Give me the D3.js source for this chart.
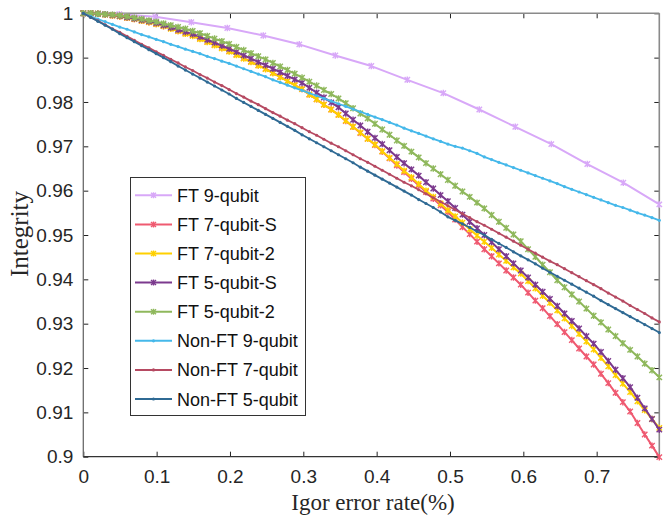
<!DOCTYPE html>
<html><head><meta charset="utf-8">
<script src="https://cdn.jsdelivr.net/npm/d3@7"></script>
<style>html,body{margin:0;padding:0;background:#fff;}svg{display:block;}</style>
</head><body>
<svg id="chart" width="670" height="516"></svg>
<script>
// ---------- data ----------
const X_MAX = 0.7854;            // right end of the error-rate axis (%)
const xTicks = [0, 0.1, 0.2, 0.3, 0.4, 0.5, 0.6, 0.7];
const xTickLabels = ["0", "0.1", "0.2", "0.3", "0.4", "0.5", "0.6", "0.7"];
const yTicks = [0.9, 0.91, 0.92, 0.93, 0.94, 0.95, 0.96, 0.97, 0.98, 0.99, 1];
const yTickLabels = ["0.9", "0.91", "0.92", "0.93", "0.94", "0.95", "0.96", "0.97", "0.98", "0.99", "1"];
const seriesNames = ["FT 9-qubit", "FT 7-qubit-S", "FT 7-qubit-2", "FT 5-qubit-S", "FT 5-qubit-2",
                     "Non-FT 9-qubit", "Non-FT 7-qubit", "Non-FT 5-qubit"];

const ft9 = [1.0000, 0.9998, 0.9992, 0.9980, 0.9967, 0.9950, 0.9930, 0.9905, 0.9881, 0.9850,
             0.9820, 0.9783, 0.9744, 0.9705, 0.9660, 0.9618, 0.9569];

const ft7S = [1.0000, 1.0000, 0.9999, 0.9997, 0.9995, 0.9993,
  0.9990, 0.9987, 0.9983, 0.9980, 0.9976,
  0.9971, 0.9966, 0.9960, 0.9955, 0.9950,
  0.9943, 0.9936, 0.9929, 0.9922, 0.9915,
  0.9907, 0.9899, 0.9891, 0.9883, 0.9875,
  0.9866, 0.9857, 0.9847, 0.9838, 0.9829,
  0.9817, 0.9806, 0.9794, 0.9783, 0.9771,
  0.9757, 0.9744, 0.9730, 0.9717, 0.9703,
  0.9688, 0.9673, 0.9657, 0.9642, 0.9627,
  0.9612, 0.9597, 0.9582, 0.9567, 0.9552,
  0.9535, 0.9518, 0.9502, 0.9485, 0.9468,
  0.9452, 0.9436, 0.9420, 0.9404, 0.9388,
  0.9370, 0.9352, 0.9335, 0.9317, 0.9299,
  0.9281, 0.9263, 0.9244, 0.9226, 0.9208,
  0.9187, 0.9166, 0.9144, 0.9123, 0.9102,
  0.9076, 0.9050, 0.9025, 0.8999];

const ft72 = [1.0000, 1.0000, 0.9999, 0.9997, 0.9995, 0.9993,
  0.9990, 0.9987, 0.9983, 0.9980, 0.9976,
  0.9971, 0.9965, 0.9960, 0.9954, 0.9949,
  0.9942, 0.9935, 0.9928, 0.9921, 0.9914,
  0.9906, 0.9898, 0.9890, 0.9882, 0.9874,
  0.9865, 0.9856, 0.9847, 0.9838, 0.9829,
  0.9817, 0.9806, 0.9794, 0.9783, 0.9771,
  0.9758, 0.9744, 0.9731, 0.9717, 0.9704,
  0.9689, 0.9674, 0.9660, 0.9645, 0.9630,
  0.9615, 0.9600, 0.9586, 0.9571, 0.9556,
  0.9542, 0.9528, 0.9513, 0.9499, 0.9485,
  0.9471, 0.9456, 0.9442, 0.9427, 0.9413,
  0.9396, 0.9380, 0.9363, 0.9347, 0.9330,
  0.9312, 0.9295, 0.9277, 0.9260, 0.9242,
  0.9223, 0.9204, 0.9184, 0.9165, 0.9146,
  0.9125, 0.9105, 0.9085, 0.9065];

const ft5S = [1.0000, 1.0000, 0.9999, 0.9998, 0.9996, 0.9994,
  0.9991, 0.9988, 0.9985, 0.9982, 0.9978,
  0.9973, 0.9968, 0.9963, 0.9958, 0.9953,
  0.9947, 0.9940, 0.9934, 0.9927, 0.9920,
  0.9913, 0.9905, 0.9898, 0.9890, 0.9883,
  0.9875, 0.9867, 0.9859, 0.9851, 0.9843,
  0.9832, 0.9821, 0.9810, 0.9799, 0.9788,
  0.9774, 0.9760, 0.9747, 0.9733, 0.9719,
  0.9705, 0.9691, 0.9676, 0.9662, 0.9648,
  0.9634, 0.9619, 0.9605, 0.9590, 0.9576,
  0.9561, 0.9546, 0.9530, 0.9515, 0.9500,
  0.9484, 0.9468, 0.9452, 0.9436, 0.9420,
  0.9404, 0.9388, 0.9372, 0.9356, 0.9340,
  0.9323, 0.9306, 0.9289, 0.9272, 0.9255,
  0.9236, 0.9216, 0.9196, 0.9177, 0.9157,
  0.9133, 0.9109, 0.9085, 0.9061];

const ft52 = [1.0000, 1.0000, 0.9999, 0.9998, 0.9997, 0.9995,
  0.9993, 0.9990, 0.9987, 0.9984, 0.9981,
  0.9977, 0.9973, 0.9969, 0.9965, 0.9960,
  0.9955, 0.9949, 0.9943, 0.9937, 0.9931,
  0.9924, 0.9917, 0.9910, 0.9903, 0.9896,
  0.9888, 0.9880, 0.9872, 0.9864, 0.9855,
  0.9846, 0.9837, 0.9827, 0.9818, 0.9808,
  0.9797, 0.9786, 0.9774, 0.9763, 0.9751,
  0.9738, 0.9726, 0.9713, 0.9701, 0.9688,
  0.9675, 0.9662, 0.9650, 0.9637, 0.9624,
  0.9611, 0.9598, 0.9586, 0.9573, 0.9560,
  0.9545, 0.9530, 0.9516, 0.9501, 0.9486,
  0.9468, 0.9451, 0.9433, 0.9416, 0.9398,
  0.9382, 0.9366, 0.9350, 0.9334, 0.9318,
  0.9303, 0.9287, 0.9272, 0.9256, 0.9241,
  0.9226, 0.9210, 0.9195, 0.9179];

const nft9 = [1.0000, 0.9993, 0.9987, 0.9981, 0.9975, 0.9969, 0.9964, 0.9958, 0.9952, 0.9947,
  0.9941, 0.9936, 0.9930, 0.9925, 0.9919, 0.9914, 0.9909, 0.9903, 0.9898, 0.9892,
  0.9887, 0.9881, 0.9875, 0.9869, 0.9863, 0.9857, 0.9850, 0.9844, 0.9838, 0.9832,
  0.9826, 0.9820, 0.9814, 0.9808, 0.9802, 0.9796, 0.9790, 0.9784, 0.9778, 0.9772,
  0.9766, 0.9760, 0.9754, 0.9748, 0.9741, 0.9735, 0.9729, 0.9723, 0.9717, 0.9711,
  0.9705, 0.9700, 0.9696, 0.9690, 0.9684, 0.9676, 0.9670, 0.9664, 0.9658, 0.9652,
  0.9646, 0.9640, 0.9634, 0.9628, 0.9622, 0.9616, 0.9609, 0.9603, 0.9597, 0.9591,
  0.9585, 0.9579, 0.9573, 0.9567, 0.9562, 0.9556, 0.9550, 0.9545, 0.9539, 0.9533];

const nft7 = [1.0000, 0.9991, 0.9983, 0.9974, 0.9965, 0.9957, 0.9948, 0.9939, 0.9930, 0.9922,
  0.9913, 0.9905, 0.9896, 0.9888, 0.9879, 0.9871, 0.9862, 0.9854, 0.9845, 0.9837,
  0.9828, 0.9819, 0.9811, 0.9802, 0.9794, 0.9785, 0.9776, 0.9768, 0.9759, 0.9751,
  0.9742, 0.9733, 0.9725, 0.9716, 0.9707, 0.9699, 0.9690, 0.9681, 0.9672, 0.9664,
  0.9655, 0.9646, 0.9637, 0.9628, 0.9619, 0.9611, 0.9602, 0.9593, 0.9584, 0.9575,
  0.9566, 0.9557, 0.9548, 0.9539, 0.9530, 0.9522, 0.9513, 0.9504, 0.9495, 0.9486,
  0.9477, 0.9468, 0.9459, 0.9450, 0.9441, 0.9433, 0.9424, 0.9415, 0.9406, 0.9397,
  0.9388, 0.9379, 0.9369, 0.9360, 0.9351, 0.9341, 0.9332, 0.9323, 0.9313, 0.9304];

const nft5 = [1.0000, 0.9991, 0.9982, 0.9973, 0.9964, 0.9954, 0.9945, 0.9936, 0.9927, 0.9918,
  0.9909, 0.9900, 0.9891, 0.9881, 0.9872, 0.9863, 0.9854, 0.9845, 0.9836, 0.9827,
  0.9818, 0.9808, 0.9799, 0.9790, 0.9781, 0.9772, 0.9763, 0.9754, 0.9745, 0.9736,
  0.9726, 0.9717, 0.9708, 0.9699, 0.9690, 0.9681, 0.9672, 0.9663, 0.9653, 0.9644,
  0.9635, 0.9626, 0.9617, 0.9608, 0.9599, 0.9590, 0.9580, 0.9571, 0.9562, 0.9552,
  0.9541, 0.9533, 0.9525, 0.9517, 0.9508, 0.9500, 0.9490, 0.9481, 0.9472, 0.9462,
  0.9453, 0.9444, 0.9435, 0.9425, 0.9416, 0.9407, 0.9398, 0.9389, 0.9380, 0.9371,
  0.9362, 0.9352, 0.9343, 0.9334, 0.9325, 0.9316, 0.9307, 0.9298, 0.9289, 0.9280];

const seriesColors = ["#d8a8f8", "#ef5a71", "#ffd000", "#7c3a8e", "#8fb85c", "#45b8ea", "#b64a62", "#2f6a94"];
const seriesMarkers = ["star", "star", "star", "star", "star", "dot", "dot", "dot"];
const seriesValues = [ft9, ft7S, ft72, ft5S, ft52, nft9, nft7, nft5];

// ---------- layout ----------
const svg = d3.select("#chart");
const L = 83.3, R = 659.3, T = 13.3, B = 456.7;
const x = d3.scaleLinear().domain([0, X_MAX]).range([L, R]);
const y = d3.scaleLinear().domain([0.9, 1]).range([B, T]);
const tickFont = "'Liberation Sans', Arial, Helvetica, sans-serif";
const serif = "'Liberation Serif', 'Times New Roman', serif";

const xAxis = d3.axisBottom(x).tickValues(xTicks).tickFormat((d, i) => xTickLabels[i]).tickSize(-5).tickPadding(13);
const yAxis = d3.axisLeft(y).tickValues(yTicks).tickFormat((d, i) => yTickLabels[i]).tickSize(-5).tickPadding(10);

const gx = svg.append("g").attr("transform", `translate(0,${B})`).call(xAxis);
const gy = svg.append("g").attr("transform", `translate(${L},0)`).call(yAxis);
[gx, gy].forEach(g => {
  g.select(".domain").remove();
  g.selectAll(".tick line").attr("stroke", "#222").attr("stroke-width", 1);
  g.selectAll(".tick text").attr("fill", "#262626").style("font-family", tickFont).style("font-size", "19px");
});
svg.append("g").attr("transform", `translate(0,${T})`)
  .call(d3.axisTop(x).tickValues(xTicks).tickFormat("").tickSize(-5))
  .call(g => { g.select(".domain").remove(); g.selectAll("line").attr("stroke", "#222"); });
svg.append("g").attr("transform", `translate(${R},0)`)
  .call(d3.axisRight(y).tickValues(yTicks).tickFormat("").tickSize(-5))
  .call(g => { g.select(".domain").remove(); g.selectAll("line").attr("stroke", "#222"); });

// box
svg.append("line").attr("x1", L).attr("x2", R).attr("y1", T).attr("y2", T).attr("stroke", "#8a8a8a").attr("stroke-width", 1.6);
svg.append("line").attr("x1", R).attr("x2", R).attr("y1", T).attr("y2", B).attr("stroke", "#8a8a8a").attr("stroke-width", 1.6);
svg.append("line").attr("x1", L).attr("x2", L).attr("y1", T).attr("y2", B).attr("stroke", "#6a6a6a").attr("stroke-width", 1.3);
svg.append("line").attr("x1", L).attr("x2", R).attr("y1", B).attr("y2", B).attr("stroke", "#333").attr("stroke-width", 1.3);

function drawMarker(g, kind, cx, cy, color, size) {
  if (kind === "dot") {
    g.append("circle").attr("cx", cx).attr("cy", cy).attr("r", 1.6).attr("fill", color);
  } else {
    const r = size;
    const d = `M${cx - r},${cy - r}L${cx + r},${cy + r}M${cx - r},${cy + r}L${cx + r},${cy - r}` +
              `M${cx},${cy - r * 1.2}L${cx},${cy + r * 1.2}`;
    g.append("path").attr("d", d).attr("stroke", color).attr("stroke-width", 1.4).attr("fill", "none");
  }
}

const line = d3.line().x(d => x(d[0])).y(d => y(d[1]));
const plotG = svg.append("g");
seriesValues.forEach((vals, si) => {
  const n = vals.length;
  const pts = vals.map((v, i) => [i * X_MAX / (n - 1), v]);
  const g = plotG.append("g");
  g.append("path").datum(pts).attr("d", line).attr("fill", "none")
    .attr("stroke", seriesColors[si]).attr("stroke-width", si < 5 ? 2 : 1.8).attr("stroke-linejoin", "round");
  pts.forEach(p => drawMarker(g, seriesMarkers[si], x(p[0]), y(p[1]), seriesColors[si], 2.7));
});

// axis titles
svg.append("text").attr("x", 373).attr("y", 510).attr("text-anchor", "middle")
  .style("font-family", serif).style("font-size", "23px").attr("fill", "#262626")
  .text("Igor error rate(%)");
svg.append("text").attr("transform", "translate(28,234) rotate(-90)").attr("text-anchor", "middle")
  .style("font-family", serif).style("font-size", "25px").attr("fill", "#262626")
  .text("Integrity");

// legend
const lg = svg.append("g");
lg.append("rect").attr("x", 130.5).attr("y", 177.5).attr("width", 175).attr("height", 238)
  .attr("fill", "#fff").attr("stroke", "#333").attr("stroke-width", 1);
seriesNames.forEach((name, i) => {
  const yy = 195.3 + i * 29.1;
  lg.append("line").attr("x1", 135).attr("x2", 172).attr("y1", yy).attr("y2", yy)
    .attr("stroke", seriesColors[i]).attr("stroke-width", 2);
  drawMarker(lg, seriesMarkers[i], 153.5, yy, seriesColors[i], 2.5);
  lg.append("text").attr("x", 177).attr("y", yy + 6.5).style("font-family", tickFont)
    .style("font-size", "18px").attr("fill", "#111").text(name);
});
</script>
</body></html>
